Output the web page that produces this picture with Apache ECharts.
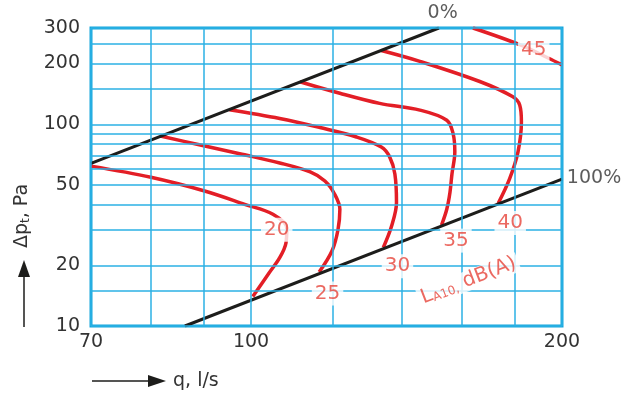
<!DOCTYPE html>
<html>
<head>
<meta charset="utf-8">
<script src="https://cdn.jsdelivr.net/npm/echarts@6/dist/echarts.min.js"></script>
<style>
html, body { margin: 0; padding: 0; background: #fff; }
#main { width: 636px; height: 394px; }
</style>
</head>
<body>
<div id="main"></div>
<script>
// grid lines and tick labels (log-log chart)
var xGrid = [70, 80, 90, 100, 120, 140, 160, 180, 200];
var xTicks = [70, 100, 200];
var yGrid = [10, 15, 20, 30, 40, 50, 60, 70, 80, 90, 100, 150, 200, 250, 300];
var yTicks = [10, 20, 50, 100, 200, 300];

// damper position lines, [q l/s, dp Pa]
var line0 = [[70, 64], [152, 300]];
var line100 = [[86.3, 10], [200, 53.5]];

// sound level curves L_A10, dB(A)
var curve20 = [[70, 62], [80, 54.6], [90, 46.8], [98.6, 40.1], [105, 35.8], [108.3, 30.5], [108.1, 25.8], [106.6, 21.8], [104.1, 18.3], [100.4, 14]];
var curve25 = [[81.7, 87.5], [89.1, 79.1], [97.5, 71.4], [106.6, 64.3], [114.1, 58], [117.9, 52.3], [120.5, 45], [121.9, 37.9], [121.4, 30.1], [119.8, 23.6], [116.4, 18.5]];
var curve30 = [[95.3, 118], [106.6, 106.8], [116.6, 96.3], [126.5, 86.5], [133.7, 77.1], [136.2, 68.9], [137.8, 56.7], [138.3, 40.9], [136.8, 31.3], [134.3, 24.5]];
var curve35 = [[111.5, 162.5], [121.9, 142.4], [133.2, 126.9], [145.7, 117.5], [154.7, 104.7], [156.9, 89.8], [157.5, 72.8], [156.5, 56.7], [155.8, 45.9], [154.7, 37.9], [152.9, 31.6]];
var curve40 = [[133.7, 232], [145.7, 205], [166.5, 162.9], [179.1, 137.1], [182, 124.5], [182.7, 102.8], [181.3, 72.8], [177.9, 53.5], [173.5, 40.6]];
var curve45 = [[164, 300], [182, 248], [193.9, 213], [200, 197]];

// curve labels: [text, q, dp]
var levelLabels = [['20', 105.9, 30], ['25', 118.6, 14.5], ['30', 138.6, 19.8], ['35', 157.9, 26.5], ['40', 178.2, 32.4], ['45', 187.8, 233.6]];
var lineLabels = [['0%', 153.3, 354], ['100%', 214.8, 54.1]];
var unitLabel = [162.4, 16.8];

var FONT = 'DejaVu Sans';
var RED = '#e31e26';
var RED_TXT = '#e6433a';
var CYAN = '#2bb1e5';

var myChart = echarts.init(document.getElementById('main'));

var gridData = [];
xGrid.forEach(function (v) {
  var on = xTicks.indexOf(v) >= 0;
  gridData.push({ xAxis: v, label: { show: on, formatter: String(v), distance: 7 } });
});
yGrid.forEach(function (v) {
  var on = yTicks.indexOf(v) >= 0;
  gridData.push({ yAxis: v, label: { show: on, formatter: String(v), distance: 11 } });
});

function curve(name, data) {
  return {
    name: name,
    type: 'line',
    data: data,
    smooth: 0.35,
    symbol: 'none',
    z: 3,
    lineStyle: { color: RED, width: 3.5 },
    silent: true
  };
}

function straight(name, data) {
  return {
    name: name,
    type: 'line',
    data: data,
    symbol: 'none',
    z: 4,
    lineStyle: { color: '#1d1d1b', width: 3 },
    silent: true
  };
}

var labelData = levelLabels.map(function (l) {
  return { name: l[0], value: [l[1], l[2]] };
});
lineLabels.forEach(function (l) {
  labelData.push({
    name: l[0], value: [l[1], l[2]],
    label: { color: '#333', backgroundColor: 'transparent', fontSize: 19 }
  });
});
labelData.push({
  name: 'L', value: unitLabel,
  label: {
    rotate: 21,
    padding: [0, 3],
    formatter: '{a|L}{s|A10,}{a| dB(A)}',
    rich: {
      a: { fontFamily: FONT, fontSize: 20, color: RED_TXT },
      s: { fontFamily: FONT, fontSize: 12, color: RED_TXT, padding: [8, 0, 0, 0] }
    }
  }
});

var option = {
  animation: false,
  grid: {
    left: 91, right: 74, top: 28, bottom: 68,
    show: true, borderColor: '#15a6dc', borderWidth: 3
  },
  xAxis: {
    type: 'log', logBase: 10, min: 70, max: 200,
    axisLine: { show: false }, axisTick: { show: false },
    axisLabel: { show: false }, splitLine: { show: false }
  },
  yAxis: {
    type: 'log', logBase: 10, min: 10, max: 300,
    axisLine: { show: false }, axisTick: { show: false },
    axisLabel: { show: false }, splitLine: { show: false }
  },
  series: [
    {
      name: 'grid',
      type: 'line',
      data: [],
      z: 1,
      markLine: {
        silent: true,
        animation: false,
        symbol: ['none', 'none'],
        lineStyle: { color: CYAN, width: 1.5, type: 'solid' },
        label: { position: 'start', color: '#333', fontSize: 19, fontFamily: FONT },
        emphasis: { disabled: true },
        data: gridData
      }
    },
    curve('20', curve20),
    curve('25', curve25),
    curve('30', curve30),
    curve('35', curve35),
    curve('40', curve40),
    curve('45', curve45),
    straight('0%', line0),
    straight('100%', line100),
    {
      name: 'labels',
      type: 'scatter',
      clip: false,
      z: 5,
      symbolSize: 1,
      itemStyle: { color: 'rgba(0,0,0,0)' },
      silent: true,
      label: {
        show: true,
        position: 'inside',
        formatter: '{b}',
        fontFamily: FONT,
        fontSize: 20,
        color: RED_TXT,
        backgroundColor: '#fff',
        padding: [2, 3]
      },
      data: labelData
    }
  ],
  graphic: [
    {
      type: 'text', x: 22, y: 216, rotation: Math.PI / 2,
      style: {
        text: '{a|Δp}{s|t}{a|, Pa}',
        align: 'center', verticalAlign: 'middle',
        rich: {
          a: { fontFamily: FONT, fontSize: 19, fill: '#333' },
          s: { fontFamily: FONT, fontSize: 12, fill: '#333', padding: [8, 0, 0, 0] }
        }
      }
    },
    { type: 'line', shape: { x1: 24, y1: 327, x2: 24, y2: 272 }, style: { stroke: '#1d1d1b', lineWidth: 1.5 } },
    { type: 'polygon', shape: { points: [[24, 260], [18, 277], [30, 277]] }, style: { fill: '#1d1d1b' } },
    { type: 'line', shape: { x1: 92, y1: 381, x2: 152, y2: 381 }, style: { stroke: '#1d1d1b', lineWidth: 1.5 } },
    { type: 'polygon', shape: { points: [[166, 381], [148, 375], [148, 387]] }, style: { fill: '#1d1d1b' } },
    {
      type: 'text', x: 173, y: 381,
      style: { text: 'q, l/s', fontFamily: FONT, fontSize: 19, fill: '#333', verticalAlign: 'middle' }
    }
  ]
};

option && myChart.setOption(option);
</script>
</body>
</html>
